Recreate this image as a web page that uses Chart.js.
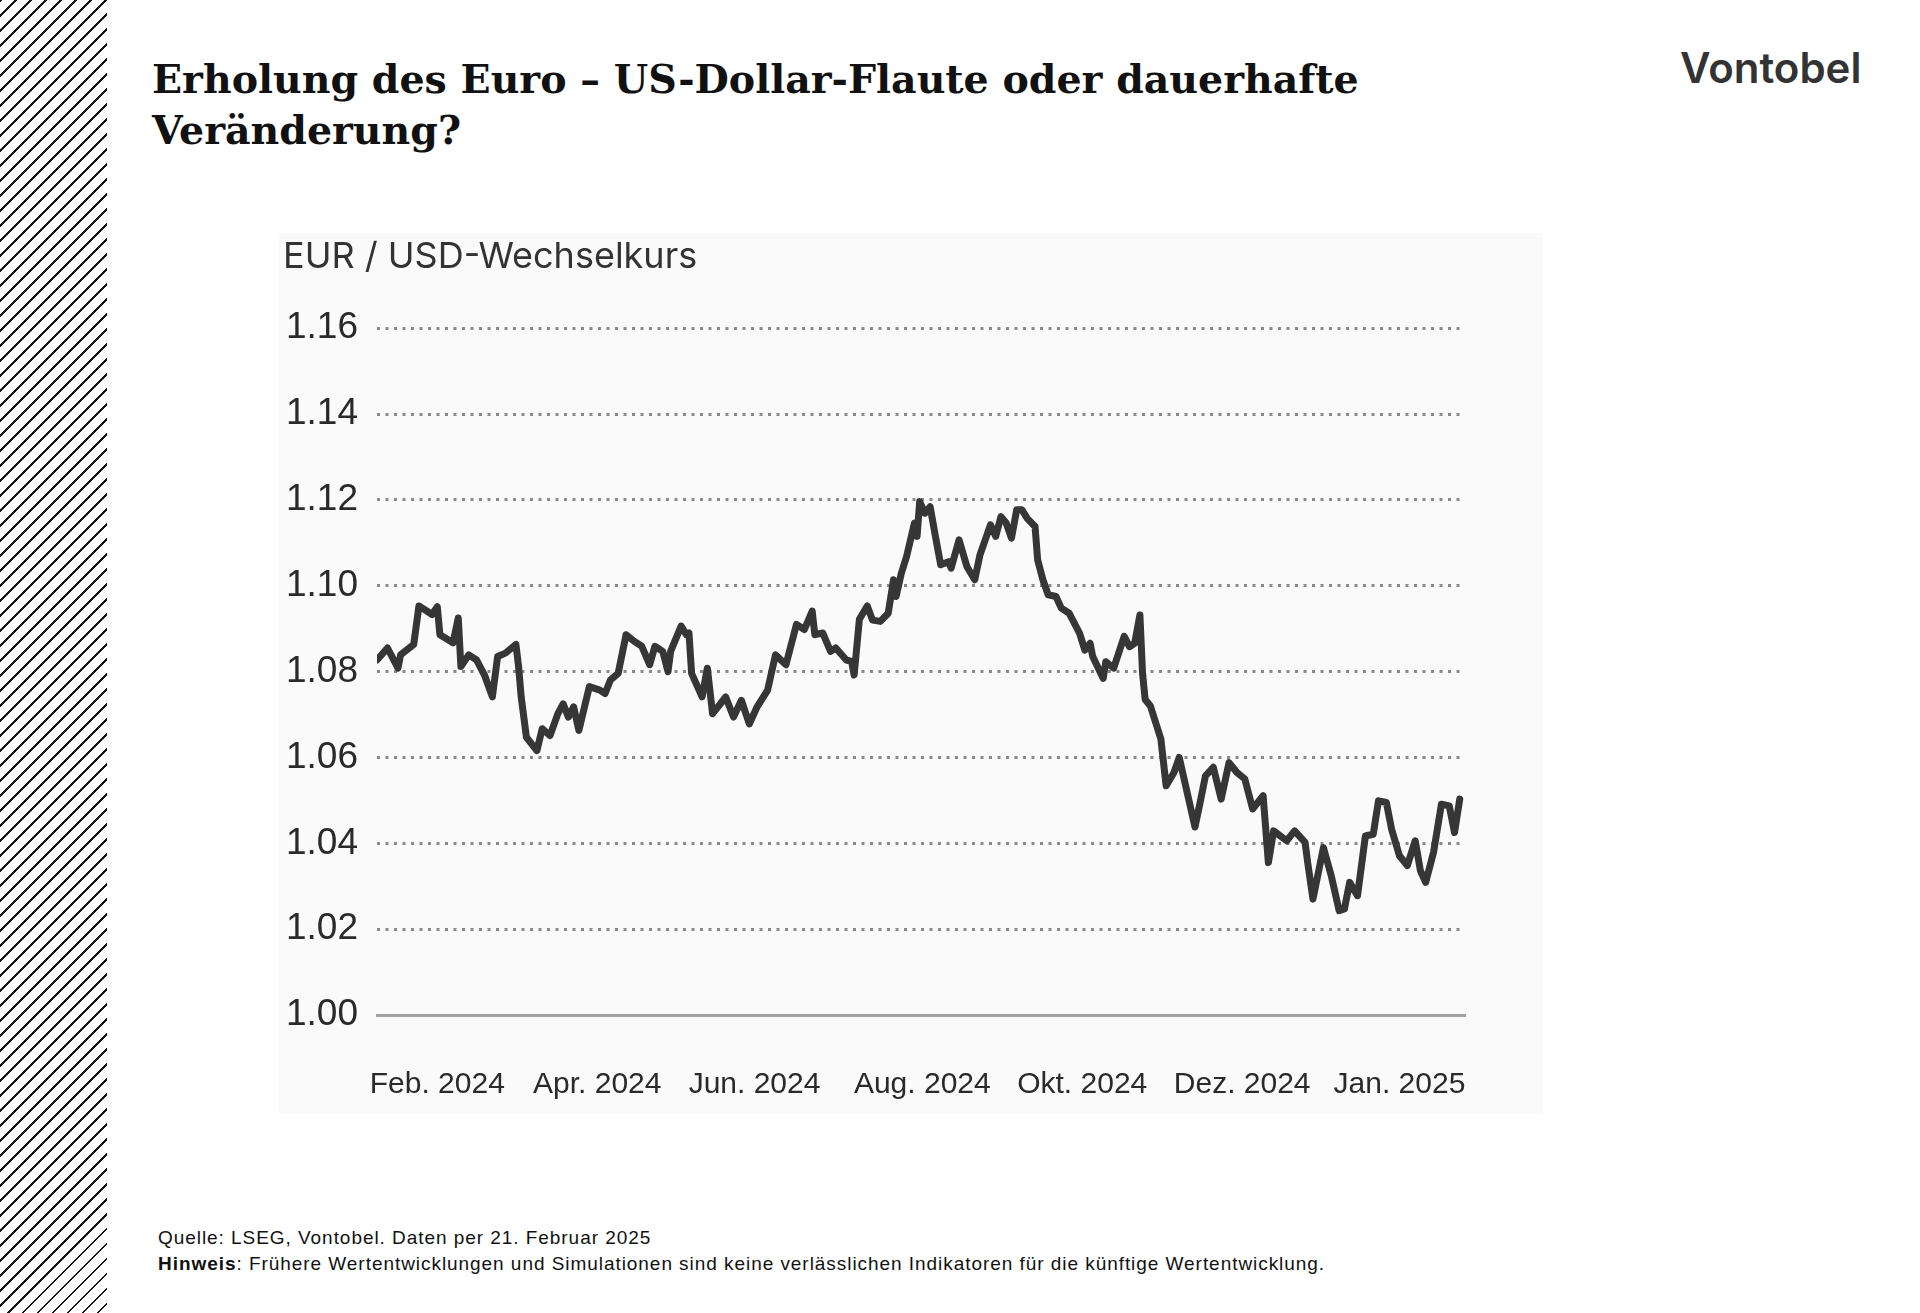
<!DOCTYPE html>
<html lang="de">
<head>
    <meta charset="UTF-8">
    <title>Erholung des Euro – EUR/USD</title>
    <script src="https://cdn.jsdelivr.net/npm/chart.js@4"></script>
    <style>
        body { margin: 0; width: 1920px; height: 1313px; background: #fff; position: relative; overflow: hidden; }
        .hatch {
            position: absolute; left: 0; top: 0; width: 107px; height: 1313px;
            background: repeating-linear-gradient(135deg, #151515 0 2px, transparent 2px 10.6px);
        }
        .title {
            position: absolute; left: 152px; top: 54px;
            font: bold 39.5px "DejaVu Serif", serif; line-height: 51px; color: #111;
        }
        .logo {
            position: absolute; left: 1680px; top: 47px;
            font: 600 42px Inter, sans-serif; line-height: 42px; color: #333;
        }
        .panel {
            position: absolute; left: 279px; top: 233px; width: 1264px; height: 881px; background: #fafafa;
        }
        .footer {
            position: absolute; left: 158px; top: 1225px;
            font: 19px "Liberation Sans", Arial, sans-serif; line-height: 26px; color: #111;
            letter-spacing: 0.95px;
        }
    </style>
</head>
<body>
    <div class="hatch"></div>
    <div class="title">Erholung des Euro – US-Dollar-Flaute oder dauerhafte<br>Veränderung?</div>
    <div class="logo">Vontobel</div>
    <div class="panel"><canvas id="fxChart"></canvas></div>
    <div class="footer">
        Quelle: LSEG, Vontobel. Daten per 21. Februar 2025<br>
        <b>Hinweis</b>: Frühere Wertentwicklungen und Simulationen sind keine verlässlichen Indikatoren für die künftige Wertentwicklung.
    </div>

    <script>
        // days since start of series (early Jan 2024) and EUR/USD close
        const days = [
            0, 4, 8, 9, 14, 16, 21, 23, 24, 29, 31, 32, 35, 38, 41, 44, 46, 49, 53, 54,
            55, 57, 61, 63, 66, 69, 71, 73, 75, 77, 81, 85, 87, 89, 92, 95, 98, 101, 104, 106,
            109, 111, 112, 116, 118, 119, 120, 124, 126, 128, 131, 133, 136, 139, 142, 145, 149, 152, 156, 160,
            163, 166, 167, 170, 173, 175, 179, 181, 182, 184, 187, 189, 192, 195, 197, 198, 200, 202, 205, 206,
            207, 209, 211, 213, 215, 218, 219, 222, 225, 228, 230, 234, 236, 238, 240, 242, 244, 246, 248, 251,
            252, 254, 256, 259, 261, 264, 268, 270, 272, 273, 277, 278, 281, 285, 287, 289, 291, 292, 293, 295,
            299, 301, 304, 306, 309, 312, 314, 316, 319, 322, 325, 328, 331, 334, 338, 340, 342, 347, 350, 354,
            355, 357, 361, 364, 367, 369, 371, 374, 377, 380, 382, 385, 387, 390, 393, 396, 398, 400, 403, 406,
            409, 411, 413
        ];
        const eurUsd = [
            1.0827, 1.0855, 1.0808, 1.0839, 1.0863, 1.0953, 1.0933, 1.0951, 1.0886, 1.0867, 1.0925, 1.0812, 1.0839, 1.0827, 1.0792, 1.0741, 1.0835, 1.0843, 1.0863, 1.0812,
            1.0741, 1.0647, 1.0616, 1.0667, 1.0651, 1.0702, 1.0725, 1.0694, 1.0718, 1.0663, 1.0765, 1.0757, 1.0749, 1.0780, 1.0796, 1.0886, 1.0871, 1.0859, 1.0816, 1.0859,
            1.0847, 1.0800, 1.0847, 1.0906, 1.0886, 1.0890, 1.0796, 1.0741, 1.0808, 1.0702, 1.0725, 1.0741, 1.0694, 1.0733, 1.0678, 1.0718, 1.0757, 1.0839, 1.0816, 1.0910,
            1.0898, 1.0941, 1.0886, 1.0890, 1.0847, 1.0855, 1.0827, 1.0824, 1.0792, 1.0922, 1.0953, 1.0920, 1.0917, 1.0936, 1.1014, 1.0975, 1.1029, 1.1068, 1.1146, 1.1115,
            1.1196, 1.1169, 1.1184, 1.1115, 1.1049, 1.1056, 1.1041, 1.1107, 1.1045, 1.1014, 1.1072, 1.1142, 1.1115, 1.1161, 1.1146, 1.1111, 1.1177, 1.1177, 1.1157, 1.1138,
            1.1060, 1.1014, 1.0979, 1.0975, 1.0948, 1.0936, 1.0889, 1.0850, 1.0866, 1.0835, 1.0784, 1.0823, 1.0808, 1.0882, 1.0858, 1.0866, 1.0932, 1.0797, 1.0735, 1.0720,
            1.0643, 1.0534, 1.0565, 1.0600, 1.0519, 1.0438, 1.0496, 1.0557, 1.0577, 1.0503, 1.0588, 1.0565, 1.0550, 1.0480, 1.0511, 1.0355, 1.0429, 1.0406, 1.0429, 1.0402,
            1.0355, 1.0270, 1.0390, 1.0324, 1.0243, 1.0247, 1.0309, 1.0278, 1.0417, 1.0421, 1.0499, 1.0495, 1.0433, 1.0371, 1.0348, 1.0406, 1.0336, 1.0309, 1.0379, 1.0491,
            1.0487, 1.0425, 1.0503
        ];

        // x-axis labels and where they sit (day index)
        const tickDays = [23, 84, 144, 208, 269, 330, 390];
        const tickLabels = ['Feb. 2024', 'Apr. 2024', 'Jun. 2024', 'Aug. 2024', 'Okt. 2024', 'Dez. 2024', 'Jan. 2025'];
        const yTicks = [1.00, 1.02, 1.04, 1.06, 1.08, 1.10, 1.12, 1.14, 1.16];

        const canvas = document.getElementById('fxChart');
        canvas.width = 1264;
        canvas.height = 881;

        new Chart(canvas, {
            type: 'line',
            data: {
                datasets: [{
                    label: 'EUR / USD',
                    data: days.map((d, i) => ({ x: d, y: eurUsd[i] })),
                    borderColor: '#363636',
                    borderWidth: 7,
                    borderJoinStyle: 'round',
                    borderCapStyle: 'round',
                    pointRadius: 0,
                    tension: 0,
                    fill: false
                }]
            },
            options: {
                responsive: false,
                animation: false,
                layout: { padding: { left: 4, right: 78, top: 0, bottom: 0 } },
                plugins: {
                    legend: { display: false },
                    tooltip: { enabled: false },
                    title: {
                        display: true,
                        text: 'EUR / USD-Wechselkurs',
                        align: 'start',
                        color: '#333',
                        font: { family: 'Inter', size: 36, weight: 'normal' },
                        padding: { top: 3, bottom: 49 }
                    }
                },
                scales: {
                    x: {
                        type: 'linear',
                        min: 0,
                        max: 415,
                        afterBuildTicks: (scale) => { scale.ticks = tickDays.map(v => ({ value: v })); },
                        afterFit: (scale) => {
                            // keep the axis box to labels only
                            scale.height = 99;
                            scale.paddingLeft = 0;
                            scale.paddingRight = 0;
                        },
                        ticks: {
                            autoSkip: false,
                            maxRotation: 0,
                            padding: 52,
                            color: '#2a2a2a',
                            font: { family: 'Liberation Sans', size: 30 },
                            callback: (v) => tickLabels[tickDays.indexOf(v)]
                        },
                        grid: { display: false, drawTicks: false },
                        border: { display: true, color: '#a2a2a2', width: 3 }
                    },
                    y: {
                        min: 1.00,
                        max: 1.16,
                        afterBuildTicks: (scale) => { scale.ticks = yTicks.map(v => ({ value: v })); },
                        afterFit: (scale) => {
                            scale.width = 94;
                            scale.paddingTop = 0;
                            scale.paddingBottom = 0;
                        },
                        ticks: {
                            padding: 19,
                            color: '#2a2a2a',
                            font: { family: 'Liberation Sans', size: 37 },
                            callback: (v) => v.toFixed(2)
                        },
                        grid: {
                            drawTicks: false,
                            lineWidth: 3,
                            color: (ctx) => (ctx.tick && ctx.tick.value === 1 ? 'rgba(0,0,0,0)' : '#8a8a8a')
                        },
                        border: { display: false, dash: [3, 5.5] }
                    }
                }
            }
        });
    </script>
</body>
</html>
